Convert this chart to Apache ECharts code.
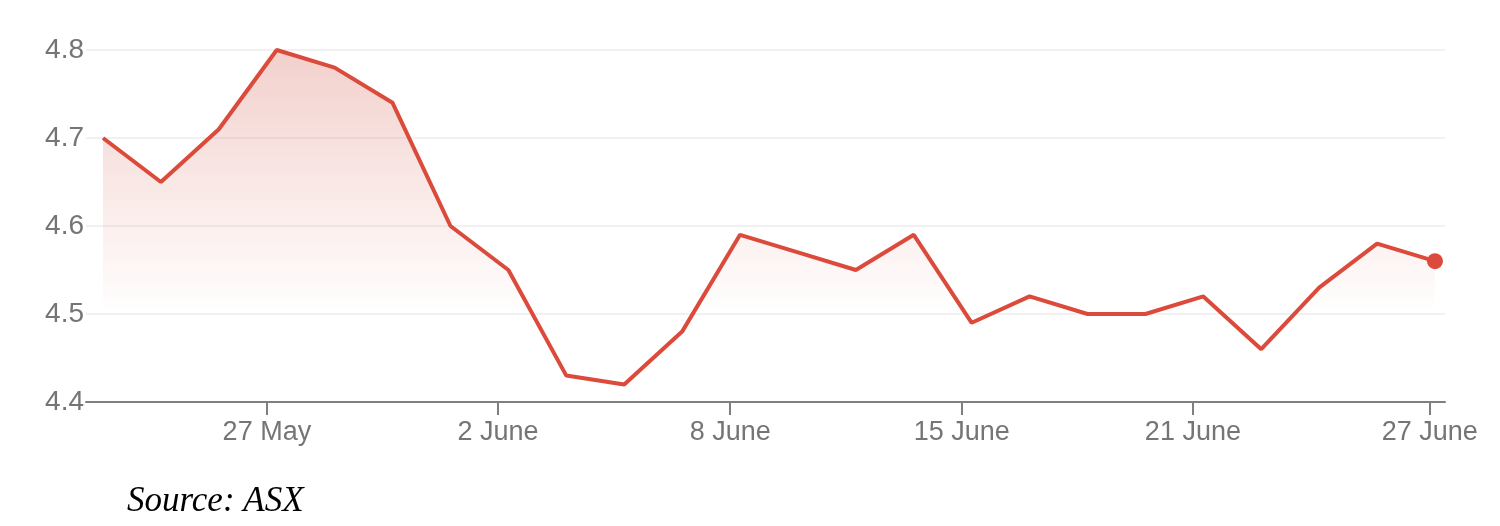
<!DOCTYPE html>
<html>
<head>
<meta charset="utf-8">
<script src="https://cdn.jsdelivr.net/npm/echarts@6/dist/echarts.min.js"></script>
<style>
html,body{margin:0;padding:0;background:#fff;}
#chart{width:1500px;height:526px;}
</style>
</head>
<body>
<div id="chart"></div>
<script>
// Data (one value per trading day, ordinal positions)
var prices = [4.70, 4.65, 4.71, 4.80, 4.78, 4.74, 4.60, 4.55, 4.43, 4.42, 4.48, 4.59,
              4.57, 4.55, 4.59, 4.49, 4.52, 4.50, 4.50, 4.52, 4.46, 4.53, 4.58, 4.56];
var tickLabels = ['27 May', '2 June', '8 June', '15 June', '21 June', '27 June'];
var tickAt = [2.83, 6.82, 10.83, 14.83, 18.82, 22.91];
var yTicks = [4.4, 4.5, 4.6, 4.7, 4.8];
var sourceText = 'Source: ASX';

var seriesData = prices.map(function (v, i) { return [i, v]; });
var lastIdx = prices.length - 1;

var chart = echarts.init(document.getElementById('chart'), null, {renderer: 'canvas'});
var labelColor = '#757575';
var option = {
  animation: false,
  backgroundColor: '#ffffff',
  grid: {left: 86, right: 55, top: 50, bottom: 124, containLabel: false},
  xAxis: {
    type: 'value',
    min: -0.2935,
    max: 23.173,
    splitLine: {show: false},
    axisLine: {show: true, onZero: false, lineStyle: {color: '#7f7f7f', width: 2}},
    axisTick: {show: true, customValues: tickAt, length: 13, lineStyle: {color: '#7f7f7f', width: 2}},
    axisLabel: {
      show: true,
      customValues: tickAt,
      margin: 17,
      color: labelColor,
      fontFamily: 'Liberation Sans, Arial, sans-serif',
      fontSize: 27,
      formatter: function (v) {
        for (var k = 0; k < tickAt.length; k++) {
          if (Math.abs(tickAt[k] - v) < 1e-6) return tickLabels[k];
        }
        return '';
      }
    }
  },
  yAxis: {
    type: 'value',
    min: yTicks[0],
    max: yTicks[yTicks.length - 1],
    interval: 0.1,
    axisLine: {show: false},
    axisTick: {show: false},
    splitLine: {show: true, lineStyle: {color: '#f1f1f1', width: 2}},
    axisLabel: {
      margin: 2,
      color: labelColor,
      fontFamily: 'Liberation Sans, Arial, sans-serif',
      fontSize: 28,
      formatter: function (v) { return v.toFixed(1); }
    }
  },
  series: [{
    type: 'line',
    data: seriesData,
    smooth: false,
    symbol: 'circle',
    symbolSize: function (val, params) { return params.dataIndex === lastIdx ? 16 : 0; },
    showSymbol: true,
    itemStyle: {color: '#db4a3a'},
    lineStyle: {color: '#db4a3a', width: 4},
    areaStyle: {
      origin: 'start',
      color: new echarts.graphic.LinearGradient(0, 0, 0, 1, [
        {offset: 0, color: 'rgba(212, 95, 80, 0.42)'},
        {offset: 0.35, color: 'rgba(212, 95, 80, 0.22)'},
        {offset: 0.70, color: 'rgba(212, 95, 80, 0.03)'},
        {offset: 0.74, color: 'rgba(212, 95, 80, 0)'},
        {offset: 1, color: 'rgba(212, 95, 80, 0)'}
      ])
    },
    z: 3
  }],
  graphic: [{
    type: 'text',
    left: 127,
    top: 484,
    style: {
      text: sourceText,
      fill: '#000',
      font: 'italic 35px "Liberation Serif", "Times New Roman", serif'
    }
  }]
};
chart.setOption(option);
</script>
</body>
</html>
